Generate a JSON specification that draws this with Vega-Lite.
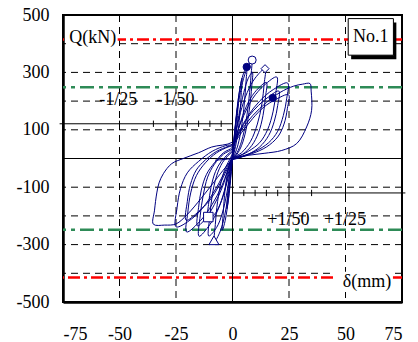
{
  "$schema": "https://vega.github.io/schema/vega-lite/v6.json",
  "width": 339,
  "height": 287,
  "autosize": {"type": "none"},
  "padding": {"left": 63, "top": 15, "right": 16, "bottom": 40},
  "background": "white",
  "config": {
    "view": {"stroke": "black", "strokeWidth": 2},
    "axis": {
      "labelFont": "Liberation Serif",
      "labelFontSize": 18,
      "labelColor": "black",
      "ticks": false,
      "grid": false,
      "domain": true,
      "domainColor": "black",
      "domainWidth": 2.5,
      "title": null,
      "labelExpr": "'' + datum.value"
    }
  },
  "datasets": {
    "h": [
      {"i":1,"x":0,"y":0},{"i":2,"x":0.5,"y":50},{"i":3,"x":1.2,"y":110},{"i":4,"x":2,"y":165},{"i":5,"x":2.5,"y":190},{"i":6,"x":2.2,"y":150},{"i":7,"x":1.6,"y":85},{"i":8,"x":0.8,"y":30},{"i":9,"x":0,"y":0},{"i":10,"x":-0.5,"y":-45},{"i":11,"x":-1.3,"y":-110},{"i":12,"x":-2,"y":-155},{"i":13,"x":-2.5,"y":-175},{"i":14,"x":-2.2,"y":-130},{"i":15,"x":-1.5,"y":-65},{"i":16,"x":-0.7,"y":-15},{"i":17,"x":0,"y":10},
      {"i":18,"x":0.8,"y":70},{"i":19,"x":1.8,"y":150},{"i":20,"x":3,"y":230},{"i":21,"x":4.2,"y":280},{"i":22,"x":3.9,"y":230},{"i":23,"x":3.2,"y":150},{"i":24,"x":2.2,"y":80},{"i":25,"x":1,"y":30},{"i":26,"x":0,"y":0},{"i":27,"x":-0.8,"y":-60},{"i":28,"x":-1.8,"y":-140},{"i":29,"x":-3.2,"y":-215},{"i":30,"x":-4.5,"y":-250},{"i":31,"x":-4.1,"y":-190},{"i":32,"x":-3.3,"y":-110},{"i":33,"x":-2.2,"y":-50},{"i":34,"x":-1,"y":-10},{"i":35,"x":0,"y":15},
      {"i":36,"x":0.8,"y":80},{"i":37,"x":1.8,"y":160},{"i":38,"x":3.2,"y":240},{"i":39,"x":4.8,"y":295},{"i":40,"x":6.3,"y":319},{"i":41,"x":6,"y":270},{"i":42,"x":5.2,"y":190},{"i":43,"x":4,"y":110},{"i":44,"x":2.5,"y":50},{"i":45,"x":1,"y":15},{"i":46,"x":0,"y":0},{"i":47,"x":-0.8,"y":-50},{"i":48,"x":-2,"y":-130},{"i":49,"x":-3.5,"y":-200},{"i":50,"x":-5.5,"y":-255},{"i":51,"x":-8,"y":-290},{"i":52,"x":-7.6,"y":-230},{"i":53,"x":-6.6,"y":-150},{"i":54,"x":-5,"y":-80},{"i":55,"x":-3,"y":-30},{"i":56,"x":-1,"y":0},{"i":57,"x":0,"y":20},
      {"i":58,"x":1,"y":90},{"i":59,"x":2.2,"y":170},{"i":60,"x":4,"y":250},{"i":61,"x":6,"y":305},{"i":62,"x":8.5,"y":342},{"i":63,"x":8.2,"y":290},{"i":64,"x":7.3,"y":210},{"i":65,"x":6,"y":130},{"i":66,"x":4,"y":60},{"i":67,"x":2,"y":20},{"i":68,"x":0,"y":0},{"i":69,"x":-1,"y":-45},{"i":70,"x":-2.5,"y":-120},{"i":71,"x":-4.5,"y":-190},{"i":72,"x":-7,"y":-240},{"i":73,"x":-10.5,"y":-270},{"i":74,"x":-10,"y":-200},{"i":75,"x":-9,"y":-130},{"i":76,"x":-7,"y":-60},{"i":77,"x":-4.5,"y":-15},{"i":78,"x":-2,"y":10},{"i":79,"x":0,"y":25},
      {"i":80,"x":1.2,"y":80},{"i":81,"x":2.8,"y":150},{"i":82,"x":5,"y":230},{"i":83,"x":7,"y":280},{"i":84,"x":8.8,"y":300},{"i":85,"x":8.5,"y":250},{"i":86,"x":7.6,"y":180},{"i":87,"x":6,"y":100},{"i":88,"x":4,"y":45},{"i":89,"x":2,"y":15},{"i":90,"x":0,"y":0},{"i":91,"x":-1.2,"y":-40},{"i":92,"x":-3,"y":-100},{"i":93,"x":-5.5,"y":-160},{"i":94,"x":-8,"y":-195},{"i":95,"x":-11,"y":-215},{"i":96,"x":-10.6,"y":-160},{"i":97,"x":-9.5,"y":-100},{"i":98,"x":-7.5,"y":-45},{"i":99,"x":-5,"y":-10},{"i":100,"x":-2,"y":15},{"i":101,"x":0,"y":30},
      {"i":102,"x":1.5,"y":90},{"i":103,"x":3.5,"y":160},{"i":104,"x":6.5,"y":230},{"i":105,"x":10,"y":280},{"i":106,"x":14.4,"y":313},{"i":107,"x":14,"y":260},{"i":108,"x":13,"y":190},{"i":109,"x":11,"y":120},{"i":110,"x":8,"y":60},{"i":111,"x":4,"y":20},{"i":112,"x":0,"y":0},{"i":113,"x":-1.5,"y":-40},{"i":114,"x":-3.5,"y":-110},{"i":115,"x":-6.5,"y":-180},{"i":116,"x":-10,"y":-230},{"i":117,"x":-14.8,"y":-271},{"i":118,"x":-14.3,"y":-200},{"i":119,"x":-13,"y":-130},{"i":120,"x":-11,"y":-65},{"i":121,"x":-8,"y":-20},{"i":122,"x":-4,"y":15},{"i":123,"x":0,"y":35},
      {"i":124,"x":2,"y":85},{"i":125,"x":4.5,"y":150},{"i":126,"x":8,"y":210},{"i":127,"x":11.5,"y":245},{"i":128,"x":15,"y":265},{"i":129,"x":14.6,"y":215},{"i":130,"x":13.5,"y":150},{"i":131,"x":11.5,"y":90},{"i":132,"x":8.5,"y":45},{"i":133,"x":4.5,"y":15},{"i":134,"x":0,"y":0},{"i":135,"x":-2,"y":-40},{"i":136,"x":-4.5,"y":-100},{"i":137,"x":-8,"y":-160},{"i":138,"x":-11.5,"y":-205},{"i":139,"x":-15.5,"y":-235},{"i":140,"x":-15,"y":-170},{"i":141,"x":-13.8,"y":-110},{"i":142,"x":-11.5,"y":-55},{"i":143,"x":-8,"y":-15},{"i":144,"x":-4,"y":20},{"i":145,"x":0,"y":40},
      {"i":146,"x":2,"y":90},{"i":147,"x":5,"y":150},{"i":148,"x":9,"y":210},{"i":149,"x":14,"y":255},{"i":150,"x":19.6,"y":284},{"i":151,"x":19.2,"y":230},{"i":152,"x":18,"y":165},{"i":153,"x":15.5,"y":100},{"i":154,"x":12,"y":55},{"i":155,"x":7,"y":25},{"i":156,"x":2,"y":5},{"i":157,"x":0,"y":0},{"i":158,"x":-2,"y":-40},{"i":159,"x":-5,"y":-100},{"i":160,"x":-9,"y":-160},{"i":161,"x":-14,"y":-215},{"i":162,"x":-20.3,"y":-256},{"i":163,"x":-19.8,"y":-190},{"i":164,"x":-18.5,"y":-120},{"i":165,"x":-16,"y":-60},{"i":166,"x":-12,"y":-15},{"i":167,"x":-7,"y":20},{"i":168,"x":-2,"y":40},{"i":169,"x":0,"y":45},
      {"i":170,"x":3,"y":90},{"i":171,"x":7,"y":145},{"i":172,"x":11.5,"y":185},{"i":173,"x":16,"y":215},{"i":174,"x":20.5,"y":235},{"i":175,"x":20,"y":185},{"i":176,"x":18.5,"y":130},{"i":177,"x":16,"y":80},{"i":178,"x":12,"y":40},{"i":179,"x":7,"y":15},{"i":180,"x":2,"y":0},{"i":181,"x":0,"y":-5},{"i":182,"x":-2.5,"y":-40},{"i":183,"x":-6,"y":-95},{"i":184,"x":-10,"y":-145},{"i":185,"x":-15,"y":-185},{"i":186,"x":-20.5,"y":-215},{"i":187,"x":-20,"y":-150},{"i":188,"x":-18.6,"y":-90},{"i":189,"x":-16,"y":-40},{"i":190,"x":-12,"y":-5},{"i":191,"x":-7,"y":25},{"i":192,"x":-2,"y":42},{"i":193,"x":0,"y":48},
      {"i":194,"x":3,"y":95},{"i":195,"x":7,"y":150},{"i":196,"x":12,"y":200},{"i":197,"x":18,"y":240},{"i":198,"x":24.4,"y":263},{"i":199,"x":24,"y":210},{"i":200,"x":22.5,"y":150},{"i":201,"x":20,"y":95},{"i":202,"x":16,"y":55},{"i":203,"x":10,"y":25},{"i":204,"x":4,"y":8},{"i":205,"x":0,"y":0},{"i":206,"x":-3,"y":-40},{"i":207,"x":-7,"y":-100},{"i":208,"x":-12,"y":-160},{"i":209,"x":-18,"y":-210},{"i":210,"x":-25,"y":-238},{"i":211,"x":-24.5,"y":-170},{"i":212,"x":-23,"y":-105},{"i":213,"x":-20,"y":-50},{"i":214,"x":-15,"y":-10},{"i":215,"x":-9,"y":25},{"i":216,"x":-3,"y":45},{"i":217,"x":0,"y":50},
      {"i":218,"x":4,"y":90},{"i":219,"x":9,"y":140},{"i":220,"x":14,"y":180},{"i":221,"x":19,"y":205},{"i":222,"x":24.8,"y":222},{"i":223,"x":24.3,"y":175},{"i":224,"x":22.8,"y":120},{"i":225,"x":20,"y":75},{"i":226,"x":15,"y":40},{"i":227,"x":9,"y":18},{"i":228,"x":3,"y":3},{"i":229,"x":0,"y":-5},
      {"i":230,"x":-3,"y":-30},{"i":231,"x":-8,"y":-80},{"i":232,"x":-14,"y":-140},{"i":233,"x":-20,"y":-195},{"i":234,"x":-25,"y":-228},{"i":235,"x":-30,"y":-232},{"i":236,"x":-35,"y":-229},{"i":237,"x":-34.5,"y":-180},{"i":238,"x":-33.5,"y":-120},{"i":239,"x":-32.5,"y":-85},{"i":240,"x":-30.6,"y":-53},{"i":241,"x":-26.9,"y":-18},{"i":242,"x":-21.8,"y":0},{"i":243,"x":-15,"y":20},{"i":244,"x":-9.2,"y":40},{"i":245,"x":0,"y":57},
      {"i":246,"x":4,"y":100},{"i":247,"x":9,"y":150},{"i":248,"x":15,"y":195},{"i":249,"x":21,"y":230},{"i":250,"x":27,"y":252},{"i":251,"x":31,"y":259},{"i":252,"x":34.3,"y":261},{"i":253,"x":34.8,"y":235},{"i":254,"x":35,"y":168},{"i":255,"x":32.8,"y":110},{"i":256,"x":28.4,"y":52},{"i":257,"x":21.8,"y":28},{"i":258,"x":14,"y":18},{"i":259,"x":6.9,"y":11},{"i":260,"x":0,"y":0},{"i":261,"x":-7.7,"y":-6}
    ]
  },
  "layer": [
    {
      "data": {"values": [{"y": 100}, {"y": 200}, {"y": 300}, {"y": 400}, {"y": -100}, {"y": -200}, {"y": -300}, {"y": -400}]},
      "mark": {"type": "rule", "color": "black", "strokeWidth": 1, "strokeDash": [7, 5]},
      "encoding": {
        "y": {"field": "y", "type": "quantitative", "scale": {"domain": [-500, 500], "nice": false, "zero": false},
          "axis": {"values": [-500,-400,-300,-200,-100,0,100,200,300,400,500], "labelPadding": 14}}
      }
    },
    {
      "data": {"values": [{"x": -50}, {"x": -25}, {"x": 25}, {"x": 50}]},
      "mark": {"type": "rule", "color": "black", "strokeWidth": 1, "strokeDash": [7, 5]},
      "encoding": {
        "x": {"field": "x", "type": "quantitative", "scale": {"domain": [-75, 75], "nice": false, "zero": false},
          "axis": {"values": [-75,-50,-25,0,25,50,75], "labelPadding": 23}}
      }
    },
    {
      "data": {"values": [{"y": 415}, {"y": -415}]},
      "mark": {"type": "rule", "color": "#ff0000", "strokeWidth": 2.5, "strokeDash": [12, 4, 3, 4]},
      "encoding": {"y": {"field": "y", "type": "quantitative"}}
    },
    {
      "data": {"values": [{"y": 248}, {"y": -248}]},
      "mark": {"type": "rule", "color": "#2e8b57", "strokeWidth": 2.5, "strokeDash": [14, 5, 4, 5]},
      "encoding": {"y": {"field": "y", "type": "quantitative"}}
    },
    {
      "data": {"values": [{"v": 0}]},
      "mark": {"type": "rule", "color": "black", "strokeWidth": 1},
      "encoding": {"y": {"field": "v", "type": "quantitative"}}
    },
    {
      "data": {"values": [{"v": 0}]},
      "mark": {"type": "rule", "color": "black", "strokeWidth": 1},
      "encoding": {"x": {"field": "v", "type": "quantitative"}}
    },
    {
      "data": {"values": [{"x": -76.5, "x2": 0, "y": 121}, {"x": 0, "x2": 76.5, "y": -120}]},
      "mark": {"type": "rule", "color": "black", "strokeWidth": 1},
      "encoding": {
        "x": {"field": "x", "type": "quantitative"},
        "x2": {"field": "x2"},
        "y": {"field": "y", "type": "quantitative"}
      }
    },
    {
      "data": {"values": [
        {"x": -50, "y": 110, "y2": 132}, {"x": -35, "y": 110, "y2": 132}, {"x": -25, "y": 110, "y2": 132}, {"x": -20, "y": 110, "y2": 132}, {"x": -15, "y": 110, "y2": 132}, {"x": -10, "y": 110, "y2": 132}, {"x": -5, "y": 110, "y2": 132},
        {"x": 5, "y": -109, "y2": -131}, {"x": 10, "y": -109, "y2": -131}, {"x": 15, "y": -109, "y2": -131}, {"x": 20, "y": -109, "y2": -131}, {"x": 25, "y": -109, "y2": -131}, {"x": 35, "y": -109, "y2": -131}, {"x": 50, "y": -109, "y2": -131}
      ]},
      "mark": {"type": "rule", "color": "black", "strokeWidth": 1},
      "encoding": {
        "x": {"field": "x", "type": "quantitative"},
        "y": {"field": "y", "type": "quantitative"},
        "y2": {"field": "y2"}
      }
    },
    {
      "data": {"values": [
        {"x": -72.8, "x2": -50.8, "y": 385, "y2": 455},
        {"x": 45, "x2": 71, "y": -395, "y2": -465}
      ]},
      "mark": {"type": "rect", "fill": "white"},
      "encoding": {
        "x": {"field": "x", "type": "quantitative"},
        "x2": {"field": "x2"},
        "y": {"field": "y", "type": "quantitative"},
        "y2": {"field": "y2"}
      }
    },
    {
      "data": {"values": [
        {"x": -61.8, "y": 420, "t": "Q(kN)"},
        {"x": 59.5, "y": -430, "t": "δ(mm)"},
        {"x": -50.5, "y": 203, "t": "-1/25"},
        {"x": -25.2, "y": 203, "t": "-1/50"},
        {"x": 24.7, "y": -213, "t": "+1/50"},
        {"x": 49.8, "y": -213, "t": "+1/25"}
      ]},
      "mark": {"type": "text", "font": "Liberation Serif", "fontSize": 18, "color": "black", "align": "center", "baseline": "middle"},
      "encoding": {
        "x": {"field": "x", "type": "quantitative"},
        "y": {"field": "y", "type": "quantitative"},
        "text": {"field": "t"}
      }
    },
    {
      "data": {"name": "h"},
      "mark": {"type": "line", "color": "#000080", "strokeWidth": 1, "interpolate": "catmull-rom"},
      "encoding": {
        "x": {"field": "x", "type": "quantitative"},
        "y": {"field": "y", "type": "quantitative"},
        "order": {"field": "i", "type": "quantitative"}
      }
    },
    {
      "data": {"values": [
        {"x": 8.7, "y": 343, "s": "circle", "f": "white", "z": 64},
        {"x": 6.3, "y": 319, "s": "circle", "f": "#000080", "z": 54},
        {"x": 14.4, "y": 313, "s": "diamond", "f": "white", "z": 64},
        {"x": 17.8, "y": 211, "s": "circle", "f": "#000080", "z": 54},
        {"x": -10.7, "y": -204, "s": "square", "f": "white", "z": 90},
        {"x": -8.2, "y": -285, "s": "triangle-up", "f": "white", "z": 100}
      ]},
      "mark": {"type": "point", "stroke": "#000080", "strokeWidth": 1, "opacity": 1, "filled": true, "strokeOpacity": 1},
      "encoding": {
        "x": {"field": "x", "type": "quantitative"},
        "y": {"field": "y", "type": "quantitative"},
        "shape": {"field": "s", "type": "nominal", "scale": null},
        "fill": {"field": "f", "type": "nominal", "scale": null},
        "size": {"field": "z", "type": "quantitative", "scale": null}
      }
    },
    {
      "data": {"values": [{"x": 52.5, "x2": 72.5, "y": 346, "y2": 473.5}]},
      "mark": {"type": "rect", "fill": "black"},
      "encoding": {
        "x": {"field": "x", "type": "quantitative"},
        "x2": {"field": "x2"},
        "y": {"field": "y", "type": "quantitative"},
        "y2": {"field": "y2"}
      }
    },
    {
      "data": {"values": [{"x": 51.2, "x2": 71.2, "y": 360, "y2": 487.5}]},
      "mark": {"type": "rect", "fill": "white", "stroke": "black", "strokeWidth": 1},
      "encoding": {
        "x": {"field": "x", "type": "quantitative"},
        "x2": {"field": "x2"},
        "y": {"field": "y", "type": "quantitative"},
        "y2": {"field": "y2"}
      }
    },
    {
      "data": {"values": [{"x": 61.2, "y": 424, "t": "No.1"}]},
      "mark": {"type": "text", "font": "Liberation Serif", "fontSize": 18, "color": "black", "align": "center", "baseline": "middle"},
      "encoding": {
        "x": {"field": "x", "type": "quantitative"},
        "y": {"field": "y", "type": "quantitative"},
        "text": {"field": "t"}
      }
    }
  ]
}
